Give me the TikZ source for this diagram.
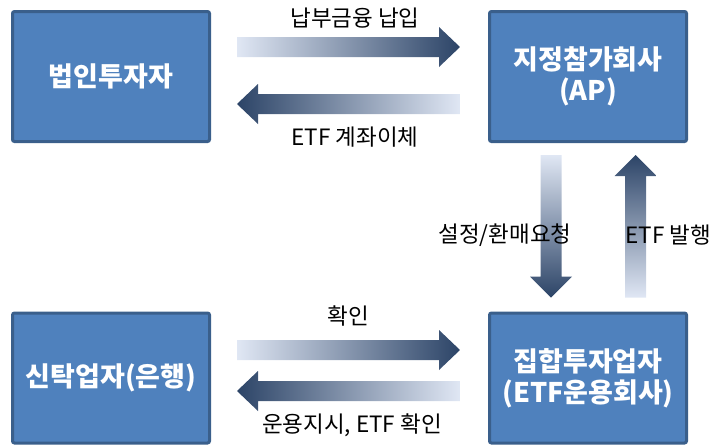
\documentclass[tikz,border=0pt]{standalone}
\usepackage{fontspec}
\setmainfont{Noto Sans CJK KR}
\usetikzlibrary{calc}
\definecolor{boxfill}{HTML}{4F81BD}
\definecolor{boxline}{HTML}{3A5F8B}
\definecolor{arrdark}{HTML}{2C4467}
\definecolor{arrmid}{HTML}{C3D1EC}
\definecolor{arrlight}{HTML}{E0E7F4}
% horizontal block arrow: tail #1, tip #2
\newcommand\blockH[2]{%
  \shade[left color=arrlight, middle color=arrmid, right color=arrdark]
    let \p1=(#1), \p2=(#2) in
    (\x1,\y1+10pt) -- (\x2-21pt,\y1+10pt) -- (\x2-21pt,\y1+20pt) -- (\x2,\y1)
    -- (\x2-21pt,\y1-20pt) -- (\x2-21pt,\y1-10pt) -- (\x1,\y1-10pt) -- cycle;}
\newcommand\blockHL[2]{%
  \shade[left color=arrdark, middle color=arrmid, right color=arrlight]
    let \p1=(#1), \p2=(#2) in
    (\x1,\y1+10pt) -- (\x2+21pt,\y1+10pt) -- (\x2+21pt,\y1+20pt) -- (\x2,\y1)
    -- (\x2+21pt,\y1-20pt) -- (\x2+21pt,\y1-10pt) -- (\x1,\y1-10pt) -- cycle;}
\newcommand\blockVD[2]{%
  \shade[top color=arrlight, middle color=arrmid, bottom color=arrdark]
    let \p1=(#1), \p2=(#2) in
    (\x1-10.5pt,\y1) -- (\x1-10.5pt,\y2+21pt) -- (\x1-21pt,\y2+21pt) -- (\x1,\y2)
    -- (\x1+21pt,\y2+21pt) -- (\x1+10.5pt,\y2+21pt) -- (\x1+10.5pt,\y1) -- cycle;}
\newcommand\blockVU[2]{%
  \shade[top color=arrdark, middle color=arrmid, bottom color=arrlight]
    let \p1=(#1), \p2=(#2) in
    (\x1-10.5pt,\y1) -- (\x1-10.5pt,\y2-21pt) -- (\x1-21pt,\y2-21pt) -- (\x1,\y2)
    -- (\x1+21pt,\y2-21pt) -- (\x1+10.5pt,\y2-21pt) -- (\x1+10.5pt,\y1) -- cycle;}
\begin{document}
\begin{tikzpicture}[x=1pt,y=-1pt,
  ent/.style={draw=boxline, line width=3pt, fill=boxfill, rounded corners=2pt,
    minimum width=197pt, minimum height=130pt, text=white, align=center, inner sep=0pt,
    font=\fontsize{27}{31}\selectfont\bfseries},
  lbl/.style={font=\fontsize{22.5}{26}\selectfont, inner sep=0pt, text=black}]
\useasboundingbox (0,0) rectangle (713,445);
\node[ent] (inv)  at (111,76.5) {법인투자자};
\node[ent] (ap)   at (588,76.5) {지정참가회사\\(AP)};
\node[ent] (bank) at (111,378) {신탁업자(은행)};
\node[ent] (amc)  at (588,378) {집합투자업자\\(ETF운용회사)};

\coordinate (a1s) at ($(inv.east)+(26,-29.5)$);
\coordinate (a1e) at ($(ap.west)+(-28,-29.5)$);
\coordinate (a2s) at ($(ap.west)+(-28,27.5)$);
\coordinate (a2e) at ($(inv.east)+(26,27.5)$);
\coordinate (a3s) at ($(ap.south)+(-37,12)$);
\coordinate (a3e) at ($(amc.north)+(-37,-14)$);
\coordinate (a4s) at ($(amc.north)+(47.5,-14)$);
\coordinate (a4e) at ($(ap.south)+(47.5,12)$);
\coordinate (a5s) at ($(bank.east)+(26,-28)$);
\coordinate (a5e) at ($(amc.west)+(-28,-28)$);
\coordinate (a6s) at ($(amc.west)+(-28,13)$);
\coordinate (a6e) at ($(bank.east)+(26,13)$);

\blockH{a1s}{a1e}
\blockHL{a2s}{a2e}
\blockVD{a3s}{a3e}
\blockVU{a4s}{a4e}
\blockH{a5s}{a5e}
\blockHL{a6s}{a6e}

\node[lbl] (l1) at (355,18) {납부금융 납입};
\node[lbl] (l2) at (355,137) {ETF 계좌이체};
\node[lbl] (l3) at (505,235) {설정/환매요청};
\node[lbl, anchor=east] (l4) at (711.5,235) {ETF 발행};
\node[lbl] (l5) at (348,316) {확인};
\node[lbl] (l6) at (352,425) {운용지시, ETF 확인};
\end{tikzpicture}
\end{document}
